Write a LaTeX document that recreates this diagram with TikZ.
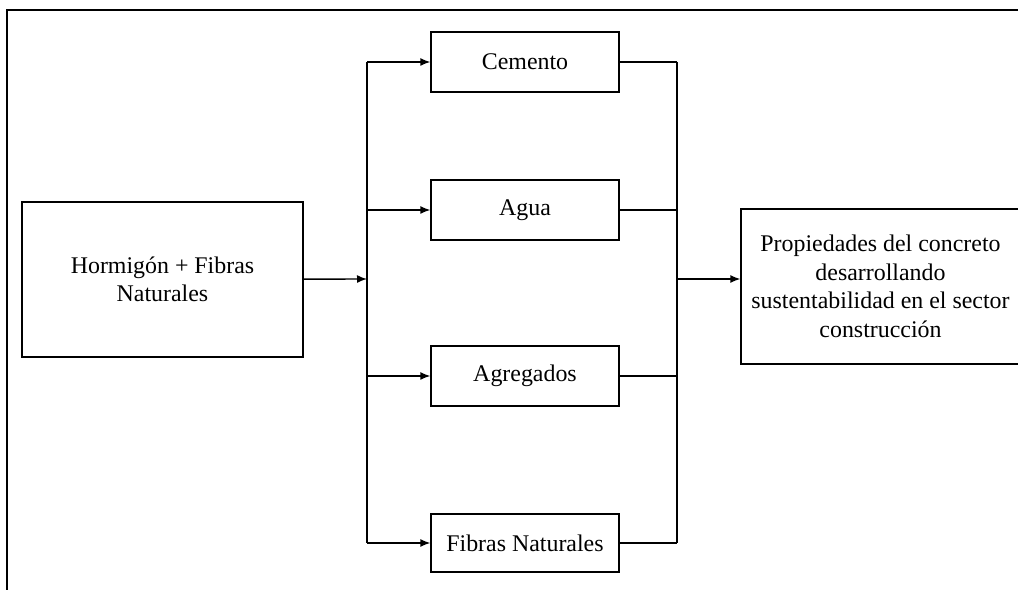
\documentclass[tikz,border=0pt]{standalone}
\usepackage{fontspec}
\setmainfont{Liberation Serif}
\usetikzlibrary{arrows.meta,positioning}
\tikzset{
  caja/.style={draw, line width=0.8pt, align=center, inner sep=2pt,
    font=\fontsize{13.6}{16.2}\selectfont},
  flecha/.style={-{Latex[length=2mm,width=1.6mm]}, line width=0.8pt},
  linea/.style={line width=0.8pt}
}
\begin{document}
\begin{tikzpicture}[x=0.02cm, y=-0.02cm]
  \useasboundingbox (0,0) rectangle (1018,590);
  \clip (0,0) rectangle (1018,590);
  \draw[linea] (7,600) -- (7,10) -- (1030,10);

  \node(HF) [caja, minimum width=5.62cm, minimum height=3.1cm] at (162.5,279.5) {Hormigón + Fibras\\Naturales};
  \node(C) [caja, minimum width=3.76cm, minimum height=1.2cm] at (525,62) {Cemento};
  \node(A) [caja, minimum width=3.76cm, minimum height=1.2cm] at (525,210) {Agua};
  \node(G) [caja, minimum width=3.76cm, minimum height=1.2cm] at (525,376) {Agregados};
  \node(F) [caja, minimum width=3.76cm, minimum height=1.16cm] at (525,543) {Fibras Naturales};
  \node(P) [caja, minimum width=5.58cm, minimum height=3.1cm] at (880.5,286.5) {Propiedades del concreto\\desarrollando\\sustentabilidad en el sector\\construcción};

  \coordinate (bl) at (367,279);
  \coordinate (br) at (677,279);

  \draw[flecha](HF) -- (bl);
  \draw[linea](bl |- C) -- (bl |- F);
  \foreach \n in {C,A,G,F}
    \draw[flecha](bl |- \n) -- (\n);
  \foreach \n in {C,A,G,F}
    \draw[linea](\n) -- (br |- \n);
  \draw[linea](br |- C) -- (br |- F);
  \draw[flecha](br) -- (P.west |- br);
\end{tikzpicture}
\end{document}
